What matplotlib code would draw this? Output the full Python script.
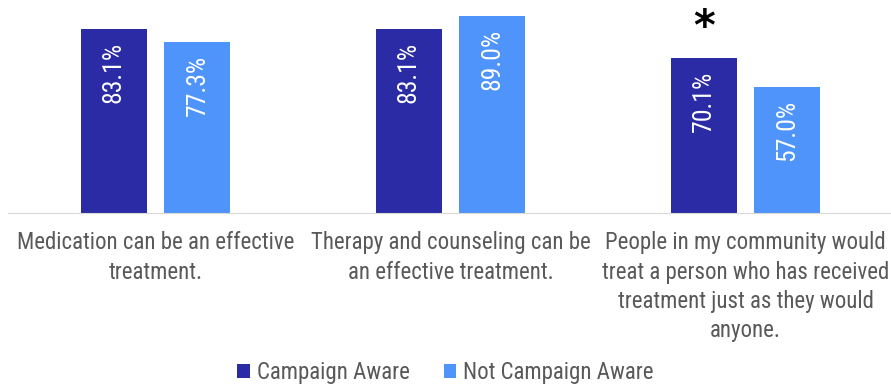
import numpy as np
import matplotlib
import matplotlib.pyplot as plt

matplotlib.rcParams['font.family'] = ['DejaVu Sans Condensed', 'Roboto Condensed',
                                      'Liberation Sans Narrow', 'DejaVu Sans']

# survey statements and percentages per group
categories = ['Medication can be an effective\ntreatment.',
              'Therapy and counseling can be\nan effective treatment.',
              'People in my community would\ntreat a person who has received\ntreatment just as they would\nanyone.']
aware = [83.1, 83.1, 70.1]
not_aware = [77.3, 89.0, 57.0]
significant = [False, False, True]

dark = '#2B2BA6'
light = '#4F94FA'
grey = '#595959'

fig = plt.figure(figsize=(8.91, 3.84), dpi=100)
ax = fig.add_axes([8/891, 1 - 213/384, 885/891, 213/384])

x = np.arange(len(categories))
w = 0.224
off = 0.142
b1 = ax.bar(x - off, aware, w, color=dark, label='Campaign Aware')
b2 = ax.bar(x + off, not_aware, w, color=light, label='Not Campaign Aware')

# value labels, rotated, inside the top of each bar
for bars, vals in [(b1, aware), (b2, not_aware)]:
    for rect, v in zip(bars, vals):
        ax.text(rect.get_x() + rect.get_width()/2, v - 6, f'{v:.1f}%',
                rotation=90, ha='center', va='top', color='white', fontsize=18.5)

# asterisk over statistically significant differences
for xi, v, sig in zip(x, aware, significant):
    if sig:
        ax.text(xi - off, v + 4, '*', ha='center', va='bottom', fontsize=30,
                fontweight='bold', color='black', family='DejaVu Sans')

ax.set_xlim(-0.5, 2.5)
ax.set_ylim(0, 96.2)
ax.set_yticks([])
ax.set_xticks(x)
ax.set_xticklabels(categories, fontsize=16.5, color=grey, linespacing=1.36)
ax.tick_params(axis='x', length=0, pad=13)
for s in ['top', 'right', 'left']:
    ax.spines[s].set_visible(False)
ax.spines['bottom'].set_color('#D9D9D9')

fig.legend(loc='lower center', bbox_to_anchor=(0.5, -0.055), ncol=2, frameon=False,
           fontsize=16.5, labelcolor=grey, handlelength=0.55, handleheight=0.55,
           handletextpad=0.3, columnspacing=1.5)

plt.savefig('out.png', dpi=100)
